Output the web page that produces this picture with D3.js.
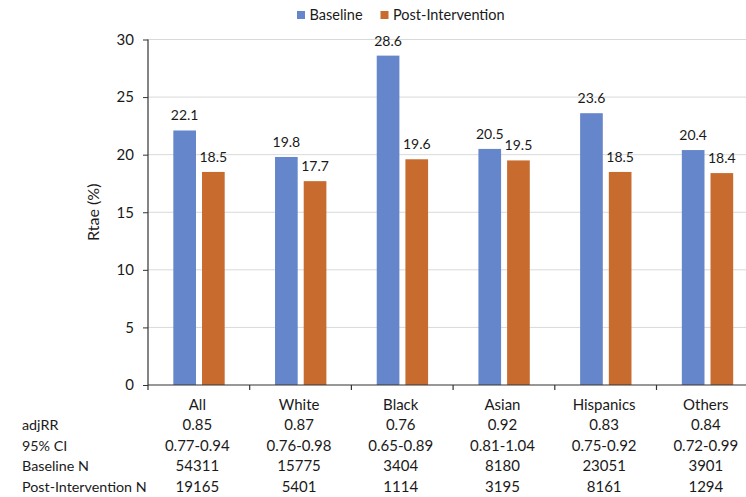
<!DOCTYPE html>
<html>
<head>
<meta charset="utf-8">
<script src="https://cdn.jsdelivr.net/npm/d3@7"></script>
<style>
  html, body { margin: 0; padding: 0; background: #fff; }
  svg { display: block; font-family: Lato, "Open Sans", sans-serif; }
</style>
</head>
<body>
<svg id="chart" width="746" height="497"></svg>
<script>
const categories = ["All", "White", "Black", "Asian", "Hispanics", "Others"];
const seriesNames = ["Baseline", "Post-Intervention"];
const baseline = [22.1, 19.8, 28.6, 20.5, 23.6, 20.4];
const postIntervention = [18.5, 17.7, 19.6, 19.5, 18.5, 18.4];
const yTicks = [0, 5, 10, 15, 20, 25, 30];
const rowLabels = ["adjRR", "95% CI", "Baseline N", "Post-Intervention N"];
const adjRR = ["0.85", "0.87", "0.76", "0.92", "0.83", "0.84"];
const ci95 = ["0.77-0.94", "0.76-0.98", "0.65-0.89", "0.81-1.04", "0.75-0.92", "0.72-0.99"];
const baselineN = ["54311", "15775", "3404", "8180", "23051", "3901"];
const postN = ["19165", "5401", "1114", "3195", "8161", "1294"];

const colors = { "Baseline": "#6586CB", "Post-Intervention": "#C76B2F" };
const textColor = "#1a1a1a";
const fs = 14;

const svg = d3.select("#chart");
const x0 = 148, y0 = 385, yTop = 39.5;
const step = 101.7;

const x = d3.scaleBand().domain(categories).range([x0, x0 + step * categories.length]).padding(0);
const xs = d3.scaleBand().domain(seriesNames)
  .range([x.bandwidth() * 0.249, x.bandwidth() * 0.754]).paddingInner(0.21).paddingOuter(0);
const y = d3.scaleLinear().domain([0, 30]).range([y0, yTop]);

// gridlines
svg.append("g").selectAll("line").data(yTicks.filter(t => t > 0)).join("line")
  .attr("x1", x0).attr("x2", 746)
  .attr("y1", d => y(d)).attr("y2", d => y(d))
  .attr("stroke", "#d9d9d9").attr("stroke-width", 1);

// bars
const data = categories.map((c, i) => ({ cat: c, vals: [
  { s: "Baseline", v: baseline[i] }, { s: "Post-Intervention", v: postIntervention[i] }] }));

const groups = svg.append("g").selectAll("g").data(data).join("g")
  .attr("transform", d => `translate(${x(d.cat)},0)`);
groups.selectAll("rect").data(d => d.vals).join("rect")
  .attr("x", d => xs(d.s)).attr("width", xs.bandwidth())
  .attr("y", d => y(d.v)).attr("height", d => y(0) - y(d.v))
  .attr("fill", d => colors[d.s]);
groups.selectAll("text").data(d => d.vals).join("text")
  .attr("x", d => xs(d.s) + xs.bandwidth() / 2)
  .attr("y", d => y(d.v) - 15)
  .attr("dy", "0.35em")
  .attr("text-anchor", "middle")
  .attr("font-size", fs).attr("fill", textColor)
  .text(d => d.v.toFixed(1));

// y axis
const yAxis = d3.axisLeft(y).tickValues(yTicks).tickSize(5).tickPadding(9).tickFormat(d3.format("d"));
const gy = svg.append("g").attr("transform", `translate(${x0},0)`).call(yAxis);
gy.select(".domain").remove();
gy.selectAll("line").attr("stroke", "#333");
gy.selectAll("text").attr("font-size", 15).attr("fill", textColor).attr("font-family", "Lato, sans-serif");
svg.append("line").attr("x1", x0).attr("x2", x0).attr("y1", yTop).attr("y2", y0 + 5)
  .attr("stroke", "#333").attr("stroke-width", 1.2);

// x axis
svg.append("line").attr("x1", x0).attr("x2", 746).attr("y1", y0).attr("y2", y0)
  .attr("stroke", "#333").attr("stroke-width", 1.2);
svg.append("g").selectAll("line").data(categories.slice(1)).join("line")
  .attr("x1", d => x(d)).attr("x2", d => x(d))
  .attr("y1", y0).attr("y2", y0 + 5).attr("stroke", "#333").attr("stroke-width", 1.2);

// y title
svg.append("text").attr("transform", `translate(93,${(y0 + yTop) / 2}) rotate(-90)`)
  .attr("text-anchor", "middle").attr("dy", "0.35em")
  .attr("font-size", 16).attr("fill", textColor).text("Rtae (%)");

// table
const rowsY = [405, 424.5, 445.5, 466, 486.5];
const rowsData = [categories, adjRR, ci95, baselineN, postN];
rowsData.forEach((row, r) => {
  svg.append("g").selectAll("text").data(row).join("text")
    .attr("x", (d, i) => x(categories[i]) + x.bandwidth() / 2 - 1.5)
    .attr("y", rowsY[r]).attr("dy", "0.35em")
    .attr("text-anchor", "middle").attr("font-size", 15).attr("fill", textColor)
    .text(d => d);
});
svg.append("g").selectAll("text").data(rowLabels).join("text")
  .attr("x", 22).attr("y", (d, i) => rowsY[i + 1]).attr("dy", "0.35em")
  .attr("font-size", 14.3).attr("fill", textColor).text(d => d);

// legend
const legendX = [297, 380.5];
const leg = svg.append("g").selectAll("g").data(seriesNames).join("g")
  .attr("transform", (d, i) => `translate(${legendX[i]},15)`);
leg.append("rect").attr("x", 0).attr("y", -4).attr("width", 8).attr("height", 8)
  .attr("fill", d => colors[d]);
leg.append("text").attr("x", 12.5).attr("dy", "0.35em").attr("font-size", 14.5)
  .attr("fill", textColor).text(d => d);
</script>
</body>
</html>
